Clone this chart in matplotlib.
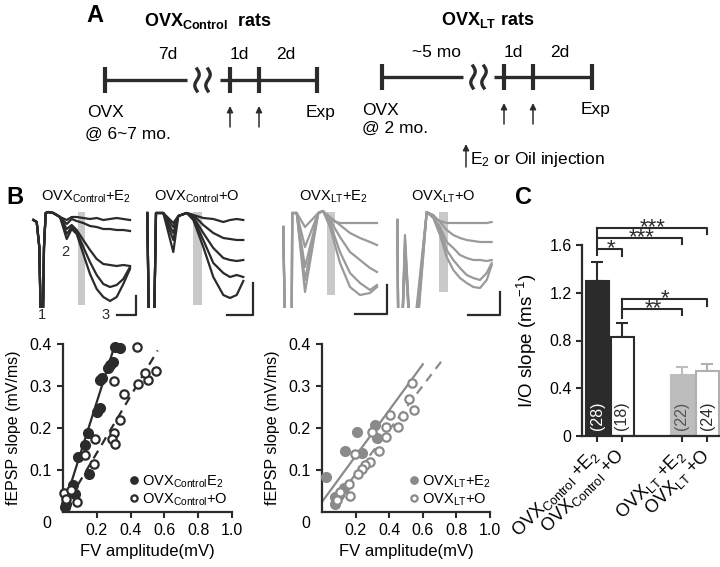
import numpy as np
import matplotlib
matplotlib.use('Agg')
import matplotlib.pyplot as plt

plt.rcParams['font.family'] = ['Liberation Sans', 'DejaVu Sans']
plt.rcParams['mathtext.fontset'] = 'custom'
plt.rcParams['mathtext.rm'] = 'Liberation Sans'
plt.rcParams['mathtext.it'] = 'Liberation Sans:italic'
plt.rcParams['mathtext.bf'] = 'Liberation Sans:bold'
plt.rcParams['mathtext.sf'] = 'Liberation Sans'

DARK = '#2b2b2b'
GREY = '#9a9a9a'
LIGHT = '#c9c9c9'
W, H = 720, 567

# ---------------- panel B: example fEPSP traces (ms, mV), weak -> strong stimulus
ctl_e2_t = [0.33, 0.67, 0.93, 1.1, 1.27, 1.4, 1.57, 1.83, 2.33, 3.0,
            3.67, 4.17, 4.67, 5.33, 6.0, 6.67, 7.33, 8.0, 8.67, 9.33, 10.0]
ctl_e2_head = [-0.08, -0.10, -0.35, -1.2, -1.2, -0.35, -0.01, 0.0, -0.01, -0.05]
ctl_e2_tails = [
    [-0.08, -0.05, -0.05, -0.06, -0.07, -0.06, -0.08, -0.07, -0.06, -0.07, -0.08],
    [-0.12, -0.07, -0.09, -0.11, -0.14, -0.15, -0.17, -0.17, -0.18, -0.18, -0.19],
    [-0.17, -0.13, -0.18, -0.28, -0.38, -0.47, -0.52, -0.53, -0.54, -0.53, -0.54],
    [-0.22, -0.15, -0.20, -0.35, -0.50, -0.63, -0.72, -0.75, -0.73, -0.67, -0.55],
    [-0.27, -0.17, -0.22, -0.42, -0.62, -0.77, -0.85, -0.89, -0.85, -0.72, -0.57],
]

ctl_o_t = [0.23, 0.4, 0.9, 1.1, 1.83, 2.83, 3.33, 4.17, 4.83, 5.83, 6.83, 7.83, 8.5, 9.17, 9.83]
ctl_o_head = [-0.01, -1.2, -1.2, -0.01, -0.01]
ctl_o_tails = [
    [-0.11, -0.04, -0.01, -0.03, -0.06, -0.07, -0.10, -0.08, -0.07, -0.08],
    [-0.15, -0.04, -0.01, -0.03, -0.13, -0.21, -0.26, -0.27, -0.28, -0.28],
    [-0.21, -0.04, -0.01, -0.05, -0.21, -0.36, -0.46, -0.48, -0.49, -0.48],
    [-0.28, -0.04, -0.01, -0.06, -0.28, -0.51, -0.61, -0.65, -0.63, -0.65],
    [-0.40, -0.04, -0.01, -0.08, -0.35, -0.65, -0.83, -0.86, -0.83, -0.69],
]

lt_e2_t = [0.83, 1.0, 1.67, 1.72, 2.17, 3.0, 4.33, 4.8, 5.5, 6.5, 7.5, 8.5, 9.5, 10.2]
lt_e2_head = [-0.15, -1.2, -1.2, -0.01, -0.01]
lt_e2_tails = [
    [-0.15, -0.01, 0.01, -0.08, -0.11, -0.11, -0.11, -0.11, -0.11],
    [-0.35, -0.01, 0.01, -0.05, -0.13, -0.21, -0.26, -0.30, -0.33],
    [-0.55, -0.01, 0.01, -0.08, -0.25, -0.40, -0.48, -0.56, -0.60],
    [-0.68, -0.01, 0.01, -0.11, -0.40, -0.61, -0.71, -0.78, -0.73],
    [-0.80, -0.01, 0.01, -0.15, -0.51, -0.75, -0.83, -0.81, -0.75],
]

lt_o_t = [0.73, 0.83, 1.2, 1.5, 2.0, 2.4, 3.67, 4.33, 5.0, 5.67, 6.33, 7.0, 7.67, 8.33, 9.0, 9.67, 10.17]
lt_o_head = [-0.08, -1.2, -1.2]
lt_o_tails = [
    [-0.23, -1.2, -1.2, 0.0, -0.05, -0.09, -0.11, -0.11, -0.11, -0.11, -0.11, -0.11, -0.11, -0.10],
    [-0.28, -1.2, -1.3, 0.0, -0.03, -0.10, -0.18, -0.23, -0.26, -0.28, -0.29, -0.30, -0.30, -0.30],
    [-0.33, -1.2, -1.4, 0.0, -0.05, -0.15, -0.30, -0.36, -0.43, -0.46, -0.48, -0.48, -0.49, -0.48],
    [-0.40, -1.2, -1.5, 0.0, -0.05, -0.18, -0.38, -0.48, -0.56, -0.63, -0.66, -0.68, -0.61, -0.51],
    [-0.45, -1.2, -1.6, 0.0, -0.06, -0.23, -0.45, -0.58, -0.66, -0.71, -0.75, -0.76, -0.68, -0.53],
]

trace_titles = [r'OVX$_{\mathrm{Control}}$+E$_2$', r'OVX$_{\mathrm{Control}}$+O',
                r'OVX$_{\mathrm{LT}}$+E$_2$', r'OVX$_{\mathrm{LT}}$+O']

# ---------------- panel B: input/output, FV amplitude (mV) vs fEPSP slope (mV/ms)
ctl_e2_fv = [0.307, 0.337, 0.277, 0.297, 0.267, 0.228, 0.218, 0.218, 0.202, 0.149,
             0.129, 0.089, 0.154, 0.059, 0.069, 0.010, 0.020]
ctl_e2_slope = [0.394, 0.390, 0.350, 0.356, 0.342, 0.320, 0.314, 0.247, 0.239, 0.187,
                0.159, 0.131, 0.091, 0.064, 0.044, 0.012, 0.020]
ctl_o_fv = [0.436, 0.303, 0.446, 0.505, 0.485, 0.550, 0.360, 0.337, 0.303, 0.287,
            0.307, 0.188, 0.129, 0.182, 0.004, 0.020, 0.050, 0.083]
ctl_o_slope = [0.392, 0.312, 0.305, 0.314, 0.330, 0.336, 0.281, 0.220, 0.187, 0.173,
               0.161, 0.175, 0.135, 0.115, 0.045, 0.030, 0.052, 0.024]
lt_e2_fv = [0.026, 0.208, 0.139, 0.238, 0.317, 0.327, 0.079, 0.099, 0.129, 0.079]
lt_e2_slope = [0.084, 0.191, 0.146, 0.141, 0.208, 0.177, 0.036, 0.040, 0.056, 0.018]
lt_o_fv = [0.535, 0.515, 0.545, 0.485, 0.455, 0.406, 0.382, 0.382, 0.337, 0.297,
           0.198, 0.287, 0.257, 0.238, 0.212, 0.158, 0.164, 0.109, 0.089]
lt_o_slope = [0.306, 0.270, 0.244, 0.228, 0.203, 0.231, 0.203, 0.179, 0.146, 0.191,
              0.139, 0.119, 0.111, 0.103, 0.091, 0.066, 0.038, 0.048, 0.028]

# linear fits: slope, intercept, fv range
fit_ctl_e2 = (1.27, 0.008, 0.0, 0.30)
fit_ctl_o = (0.678, 0.005, 0.04, 0.56)
fit_lt_e2 = (0.546, 0.024, 0.0, 0.60)
fit_lt_o = (0.526, -0.015, 0.06, 0.71)

# ---------------- panel C: I/O slope
groups = [r'OVX$_{\mathrm{Control}}$ +E$_2$', r'OVX$_{\mathrm{Control}}$ +O',
          r'OVX$_{\mathrm{LT}}$ +E$_2$', r'OVX$_{\mathrm{LT}}$ +O']
io_mean = [1.30, 0.83, 0.51, 0.545]
io_sem = [0.16, 0.12, 0.07, 0.055]
n_rats = [28, 18, 22, 24]
# (group a, group b, stars)
comparisons = [(0, 3, '***'), (0, 2, '***'), (0, 1, '*'), (1, 3, '*'), (1, 2, '**')]


def px_axes(fig, left, top, right, bottom):
    return fig.add_axes([left / W, 1 - bottom / H, (right - left) / W, (bottom - top) / H])


fig = plt.figure(figsize=(7.2, 5.67), dpi=100)
ov = fig.add_axes([0, 0, 1, 1])
ov.set_xlim(0, W)
ov.set_ylim(H, 0)
ov.axis('off')

# ---------------- A: timelines
def draw_timeline(xs, squig, y):
    x0, xb, xr, i1, i2, xe = xs
    ov.plot([x0, xb], [y, y], color=DARK, lw=2.4, solid_capstyle='butt')
    ov.plot([xr, xe], [y, y], color=DARK, lw=2.4, solid_capstyle='butt')
    for x in (x0, i1, i2, xe):
        ov.plot([x, x], [y - 13, y + 13], color=DARK, lw=3.0, solid_capstyle='butt')
    s = np.linspace(-1, 1, 40)
    for xq in squig:
        ov.plot(xq - 2.2 * np.sin(np.pi * s), y + 11 * s, color=DARK, lw=2.4)
    for x in (i1, i2):
        ov.annotate('', xy=(x, y + 26), xytext=(x, y + 47),
                    arrowprops=dict(arrowstyle='-|>', color=DARK, lw=1.1,
                                    mutation_scale=9, shrinkA=0, shrinkB=0))


ov.text(95, 16, 'A', fontsize=17, fontweight='bold', ha='center', va='center')
ov.text(208, 26, r'OVX$_{\mathbf{Control}}$  rats', fontsize=13, fontweight='bold', ha='center', va='baseline')
draw_timeline((105, 187, 220, 230, 259, 317), (197, 208), 80)
ov.text(168, 59, '7d', fontsize=12.5, ha='center', va='baseline')
ov.text(239, 59, '1d', fontsize=12.5, ha='center', va='baseline')
ov.text(286, 59, '2d', fontsize=12.5, ha='center', va='baseline')
ov.text(87, 117, 'OVX', fontsize=12.5, ha='left', va='baseline')
ov.text(85, 139, '@ 6~7 mo.', fontsize=12.5, ha='left', va='baseline')
ov.text(321, 117, 'Exp', fontsize=12.5, ha='center', va='baseline')

ov.text(488, 25, r'OVX$_{\mathbf{LT}}$ rats', fontsize=13, fontweight='bold', ha='center', va='baseline')
draw_timeline((382, 463, 494, 504, 533, 592), (473, 484), 77)
ov.text(437, 57, '~5 mo', fontsize=12.5, ha='center', va='baseline')
ov.text(513, 57, '1d', fontsize=12.5, ha='center', va='baseline')
ov.text(560, 57, '2d', fontsize=12.5, ha='center', va='baseline')
ov.text(362, 115, 'OVX', fontsize=12.5, ha='left', va='baseline')
ov.text(362, 133, '@ 2 mo.', fontsize=12.5, ha='left', va='baseline')
ov.text(596, 114, 'Exp', fontsize=12.5, ha='center', va='baseline')
ov.annotate('', xy=(466, 144), xytext=(466, 167),
            arrowprops=dict(arrowstyle='-|>', color=DARK, lw=1.1, mutation_scale=9, shrinkA=0, shrinkB=0))
ov.text(470, 164, r'E$_2$ or Oil injection', fontsize=12.5, ha='left', va='baseline')

# ---------------- B: traces
trace_sets = [
    (ctl_e2_t, ctl_e2_head, ctl_e2_tails, DARK, 30, (4.8, 5.5, -0.93), (8.7, 10.6, -0.84, -1.03), 86),
    (ctl_o_t, ctl_o_head, ctl_o_tails, DARK, 145, (4.8, 5.7, -0.93), (8.2, 10.8, -0.71, -1.03), 197),
    (lt_e2_t, lt_e2_head, lt_e2_tails, GREY, 275, (5.2, 6.0, -0.83), (8.0, 11.2, -0.73, -1.02), 333),
    (lt_o_t, lt_o_head, lt_o_tails, GREY, 390, (4.9, 5.8, -0.80), (7.8, 11.0, -0.80, -1.03), 443),
]
for (t, head, tails, col, left, win, sb, tx), title in zip(trace_sets, trace_titles):
    ax = px_axes(fig, left, 205, left + 115, 308)
    ax.fill_between([win[0], win[1]], [0, 0], [win[2], win[2]], color=LIGHT, lw=0, zorder=1)
    for tail in tails:
        ax.plot(t, head + tail, color=col, lw=1.6, zorder=2)
    ax.plot([sb[0], sb[1], sb[1]], [sb[3], sb[3], sb[2]], color=DARK, lw=1.6, clip_on=False)
    ax.set_xlim(0, 11.5)
    ax.set_ylim(-0.96, 0.07)
    ax.axis('off')
    ov.text(tx, 201, title, fontsize=10.5, ha='center', va='baseline')

ov.text(15, 197, 'B', fontsize=17, fontweight='bold', ha='center', va='center')
ov.text(42, 315, '1', fontsize=10.5, ha='center', va='center', color=DARK)
ov.text(65, 252, '2', fontsize=10.5, ha='center', va='center', color=DARK)
ov.text(106, 315, '3', fontsize=10.5, ha='center', va='center', color=DARK)

# ---------------- B: I/O scatter plots
def scatter_panel(ax, fv_a, sl_a, fv_b, sl_b, fit_a, fit_b, col, labels, anchor):
    for (k, b, x0, x1), ls in ((fit_a, '-'), (fit_b, (0, (4, 3)))):
        xx = np.array([x0, x1])
        ax.plot(xx, k * xx + b, color=col, lw=1.6, ls=ls, zorder=2)
    ax.plot(fv_a, sl_a, 'o', color=col, mec=col, ms=7, label=labels[0], zorder=3, clip_on=False)
    ax.plot(fv_b, sl_b, 'o', mfc='white', mec=col, ms=6, mew=1.6, label=labels[1], zorder=3, clip_on=False)
    ax.set_xlim(0, 1.0)
    ax.set_ylim(0, 0.4)
    for s in ('top', 'right'):
        ax.spines[s].set_visible(False)
    for s in ('left', 'bottom'):
        ax.spines[s].set_linewidth(1.6)
        ax.spines[s].set_color(DARK)
    ax.set_xticks([0.2, 0.4, 0.6, 0.8, 1.0])
    ax.set_xticklabels(['0.2', '0.4', '0.6', '0.8', '1.0'])
    ax.set_yticks([0.1, 0.2, 0.3, 0.4])
    ax.set_yticklabels(['0.1', '0.2', '0.3', '0.4'])
    ax.tick_params(direction='out', length=4, width=1.5, color=DARK, labelsize=11.5, pad=4)
    ax.annotate('0', xy=(0, 0), xycoords='axes fraction', xytext=(-16, -11),
                textcoords='offset pixels', ha='center', va='center', fontsize=11.5)
    ax.set_xlabel('FV amplitude(mV)', fontsize=12, labelpad=4)
    ax.set_ylabel('fEPSP slope (mV/ms)', fontsize=11.5, labelpad=6)
    ax.legend(loc='lower right', bbox_to_anchor=anchor, frameon=False, fontsize=10.5,
              handletextpad=0.05, handlelength=1.0, labelspacing=0.1, borderaxespad=0.2,
              borderpad=0.1, markerscale=0.75)


ax1 = px_axes(fig, 63, 344, 232, 512)
scatter_panel(ax1, ctl_e2_fv, ctl_e2_slope, ctl_o_fv, ctl_o_slope, fit_ctl_e2, fit_ctl_o, DARK,
              [r'OVX$_{\mathrm{Control}}$E$_2$', r'OVX$_{\mathrm{Control}}$+O'], (1.0, 0.0))
ax2 = px_axes(fig, 322, 344, 490, 512)
scatter_panel(ax2, lt_e2_fv, lt_e2_slope, lt_o_fv, lt_o_slope, fit_lt_e2, fit_lt_o, '#8a8a8a',
              [r'OVX$_{\mathrm{LT}}$+E$_2$', r'OVX$_{\mathrm{LT}}$+O'], (1.03, 0.0))

# ---------------- C: bars
axc = px_axes(fig, 582, 245, 720, 436)
x_pos = [0, 1, 3.4, 4.4]
faces = [DARK, 'white', '#bdbdbd', 'white']
edges = [DARK, DARK, '#bdbdbd', '#b0b0b0']
axc.bar(x_pos, io_mean, width=0.92, color=faces, edgecolor=edges, linewidth=1.5, zorder=2)
for x, m, e, ec in zip(x_pos, io_mean, io_sem, edges):
    axc.errorbar([x], [m], yerr=[[0], [e]], color=ec, capsize=4, elinewidth=1.5,
                 capthick=1.5, zorder=1, clip_on=False)
num_colors = ['white', DARK, '#555555', DARK]
for x, n, c in zip(x_pos, n_rats, num_colors):
    axc.text(x, 0.17, '(%d)' % n, rotation=90, ha='center', va='center', fontsize=11.5, color=c)
axc.set_xlim(-0.6, 4.92)
axc.set_ylim(0, 1.6)
for s in ('top', 'right'):
    axc.spines[s].set_visible(False)
for s in ('left', 'bottom'):
    axc.spines[s].set_linewidth(1.6)
    axc.spines[s].set_color(DARK)
axc.set_yticks([0, 0.4, 0.8, 1.2, 1.6])
axc.set_yticklabels(['0', '0.4', '0.8', '1.2', '1.6'])
axc.set_xticks(x_pos)
axc.set_xticklabels(groups, rotation=45, ha='right', va='center', rotation_mode='anchor')
axc.tick_params(direction='out', length=4, width=1.5, color=DARK, labelsize=11.5)
axc.tick_params(axis='x', labelsize=13, pad=8)
axc.set_ylabel('I/O slope (ms$^{-1}$)', fontsize=13.5, labelpad=7)

# significance brackets: bracket height (ms^-1) and star position for each comparison
bracket_y = [1.743, 1.660, 1.567, 1.148, 1.065]
star_x = [2.24, 1.8, 0.56, 2.72, 2.24]
drop = 0.055
for (a, b, stars), y, sx in zip(comparisons, bracket_y, star_x):
    xa, xb = x_pos[a], x_pos[b]
    axc.plot([xa, xb, xb], [y, y, y - drop], color=DARK, lw=1.5, clip_on=False)
    axc.annotate(stars, xy=(sx, y), xytext=(0, -5), textcoords='offset pixels',
                 ha='center', va='baseline', fontsize=16, color=DARK, annotation_clip=False)
axc.plot([0, 0], [bracket_y[0], 1.517], color=DARK, lw=1.5, clip_on=False)
axc.plot([1, 1], [bracket_y[3], 0.99], color=DARK, lw=1.5, clip_on=False)

ov.text(523, 197, 'C', fontsize=17, fontweight='bold', ha='center', va='center')

fig.savefig('out.png', dpi=100)
